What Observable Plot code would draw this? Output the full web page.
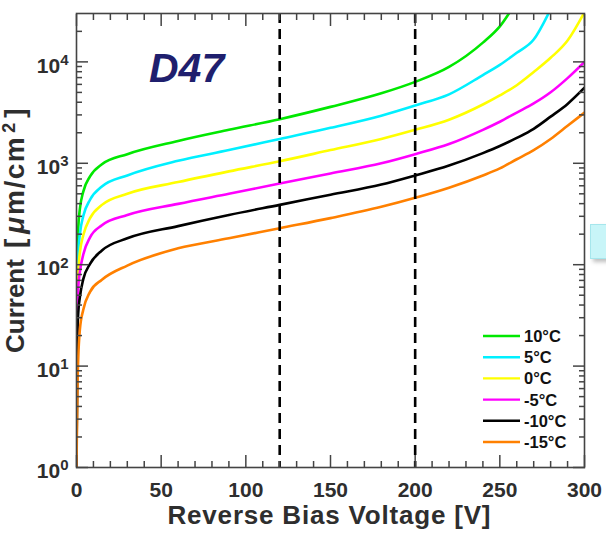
<!DOCTYPE html>
<html>
<head>
<meta charset="utf-8">
<script src="https://cdn.jsdelivr.net/npm/d3@7"></script>
<script src="https://cdn.jsdelivr.net/npm/@observablehq/plot@0.6"></script>
<style>
  body { margin: 0; background: #fff; }
  #wrap { position: relative; width: 606px; height: 533px; overflow: hidden; }
  #wrap svg { position: absolute; left: 0; top: 0; }
  #tab { position: absolute; left: 590px; top: 224px; width: 30px; height: 33px;
         background: #c8f5f8; border: 1px solid #a6e6ec;
         box-shadow: 3px 3px 4px rgba(0,0,0,0.25); }
</style>
</head>
<body>
<div id="wrap"><div id="tab"></div></div>
<script>
// Reverse bias voltage sample points [V]
const voltage = [0, 0.5, 1, 2, 4, 8, 15, 30, 60, 90, 120, 150, 180, 200, 220, 240, 250, 260, 270, 280, 290, 300];

// Current density per temperature (null once the curve has left the plotted range)
const current10C  = [1, 63, 224, 355, 525, 741, 977, 1230, 1660, 2138, 2723, 3600, 4900, 6350, 8913, 15488, 22387, 39811, null, null, null, null];
const current5C   = [1, 40, 126, 200, 302, 437, 589, 759, 1059, 1349, 1738, 2239, 2951, 3715, 4786, 7413, 9333, 12303, 16596, 33113, null, null];
const current0C   = [1, 25, 85, 132, 195, 288, 389, 501, 653, 832, 1047, 1349, 1738, 2138, 2692, 3802, 4677, 5888, 7943, 10965, 16218, 30903];
const currentM5C  = [1, 32, 59, 85, 126, 186, 245, 309, 398, 501, 631, 794, 1000, 1230, 1549, 2138, 2570, 3162, 3890, 5012, 6918, 10000];
const currentM10C = [1, 20, 33, 48, 72, 102, 138, 182, 240, 309, 389, 490, 617, 759, 950, 1259, 1479, 1778, 2188, 2884, 3850, 5560];
const currentM15C = [1, 5.6, 11.7, 23, 36, 54, 71, 98, 145, 182, 229, 288, 372, 457, 575, 759, 891, 1096, 1349, 1738, 2344, 3162];

const temperatures = ["10°C", "5°C", "0°C", "-5°C", "-10°C", "-15°C"];
const seriesColors = ["#00e800", "#00f0ff", "#ffff00", "#ff00ff", "#000000", "#ff8000"];
const seriesValues = [current10C, current5C, current0C, currentM5C, currentM10C, currentM15C];

// Operating voltages marked by dashed lines
const markerVoltages = [120, 200];

// Axis ticks
const xMajorTicks = [0, 50, 100, 150, 200, 250, 300];
const xMinorTicks = [10, 20, 30, 40, 60, 70, 80, 90, 110, 120, 130, 140, 160, 170, 180, 190, 210, 220, 230, 240, 260, 270, 280, 290];
const yMajorTicks = [1, 10, 100, 1000, 10000];
const yMinorTicks = [2, 3, 4, 5, 6, 7, 8, 9, 20, 30, 40, 50, 60, 70, 80, 90,
  200, 300, 400, 500, 600, 700, 800, 900, 2000, 3000, 4000, 5000, 6000, 7000, 8000, 9000, 20000];

const rows = [];
temperatures.forEach((t, i) => {
  voltage.forEach((v, j) => {
    const c = seriesValues[i][j];
    if (c != null) rows.push({voltage: v, current: c, temperature: t});
  });
});

const axisColor = "#444";
const textColor = "#2e2e2e";

const chart = Plot.plot({
  width: 606,
  height: 533,
  marginLeft: 76,
  marginRight: 22,
  marginTop: 13,
  marginBottom: 66,
  style: {fontFamily: "'Liberation Sans', Arial, sans-serif", fontWeight: "bold", background: "transparent", color: textColor},
  x: {domain: [0, 300]},
  y: {type: "log", domain: [1, 30000]},
  color: {domain: temperatures, range: seriesColors},
  marks: [
    Plot.line(rows, {x: "voltage", y: "current", z: "temperature", stroke: "temperature",
      strokeWidth: 2.6, curve: "monotone-x", clip: true}),
    Plot.ruleX(markerVoltages, {stroke: "#000", strokeWidth: 2.6, strokeDasharray: "10,6"}),
    // inward ticks on all four sides
    Plot.axisX(xMajorTicks, {anchor: "bottom", tickSize: -12, fill: "none", stroke: axisColor, strokeWidth: 1.5, label: null}),
    Plot.axisX(xMinorTicks, {anchor: "bottom", tickSize: -6, fill: "none", stroke: axisColor, strokeWidth: 1.5, label: null}),
    Plot.axisX(xMajorTicks, {anchor: "top", tickSize: -12, fill: "none", stroke: axisColor, strokeWidth: 1.5, label: null}),
    Plot.axisX(xMinorTicks, {anchor: "top", tickSize: -6, fill: "none", stroke: axisColor, strokeWidth: 1.5, label: null}),
    Plot.axisY(yMajorTicks, {anchor: "left", tickSize: -12, fill: "none", stroke: axisColor, strokeWidth: 1.5, label: null}),
    Plot.axisY(yMinorTicks, {anchor: "left", tickSize: -6, fill: "none", stroke: axisColor, strokeWidth: 1.5, label: null}),
    Plot.axisY(yMajorTicks, {anchor: "right", tickSize: -12, fill: "none", stroke: axisColor, strokeWidth: 1.5, label: null}),
    Plot.axisY(yMinorTicks, {anchor: "right", tickSize: -6, fill: "none", stroke: axisColor, strokeWidth: 1.5, label: null}),
    // tick labels
    Plot.axisX(xMajorTicks, {anchor: "bottom", tickSize: 0, tickPadding: 15, fontSize: 21, fill: textColor, label: null}),
    Plot.axisY(yMajorTicks, {anchor: "left", tickSize: 0, tickPadding: 8, fontSize: 21, dy: 4, fill: textColor, label: null,
      tickFormat: d => "10^" + Math.round(Math.log10(d))}),
    Plot.frame({stroke: axisColor, strokeWidth: 1.6})
  ]
});

document.getElementById("wrap").appendChild(chart);
const svg = d3.select(chart);

// powers of ten as superscripts
svg.selectAll('g[aria-label="y-axis tick label"] text').each(function() {
  const [base, exp] = this.textContent.split("^");
  const t = d3.select(this);
  t.text(base);
  t.append("tspan").attr("dy", "-0.52em").attr("font-size", "15px").text(exp);
});

// axis titles
svg.append("text")
  .attr("x", 329).attr("y", 524)
  .attr("text-anchor", "middle")
  .attr("font-size", 26).attr("font-weight", "bold").attr("fill", textColor)
  .attr("textLength", 323).attr("lengthAdjust", "spacing")
  .text("Reverse Bias Voltage [V]");

const yTitle = svg.append("text")
  .attr("transform", "translate(23.5,353) rotate(-90)")
  .attr("text-anchor", "start")
  .attr("font-size", 26).attr("font-weight", "bold").attr("fill", textColor);
yTitle.append("tspan").text("Current");
yTitle.append("tspan").attr("dx", 11).attr("font-size", 28).text("[");
yTitle.append("tspan").attr("font-style", "italic").attr("font-size", 28).attr("dx", 5).text("μ");
yTitle.append("tspan").attr("dx", 2).attr("font-size", 28).attr("letter-spacing", 1.5).text("m/cm");
yTitle.append("tspan").attr("font-size", 18).attr("dy", -9).attr("dx", 3).text("2");
yTitle.append("tspan").attr("dy", 9).attr("dx", 5).attr("font-size", 28).text("]");

// device label
svg.append("text")
  .attr("x", 149).attr("y", 82)
  .attr("text-anchor", "start")
  .attr("font-size", 41).attr("font-weight", "bold").attr("font-style", "italic")
  .attr("fill", "#1f1f6e")
  .text("D47");

// legend
const legend = svg.append("g")
  .attr("text-anchor", "start")
  .attr("font-size", 16.5).attr("font-weight", "bold").attr("fill", "#111");
temperatures.forEach((t, i) => {
  const y = 336 + i * 21.2;
  legend.append("line").attr("x1", 483).attr("x2", 520).attr("y1", y).attr("y2", y)
    .attr("stroke", seriesColors[i]).attr("stroke-width", 2.4);
  legend.append("text").attr("x", 524).attr("y", y).attr("dy", "0.36em").text(t);
});
</script>
</body>
</html>
